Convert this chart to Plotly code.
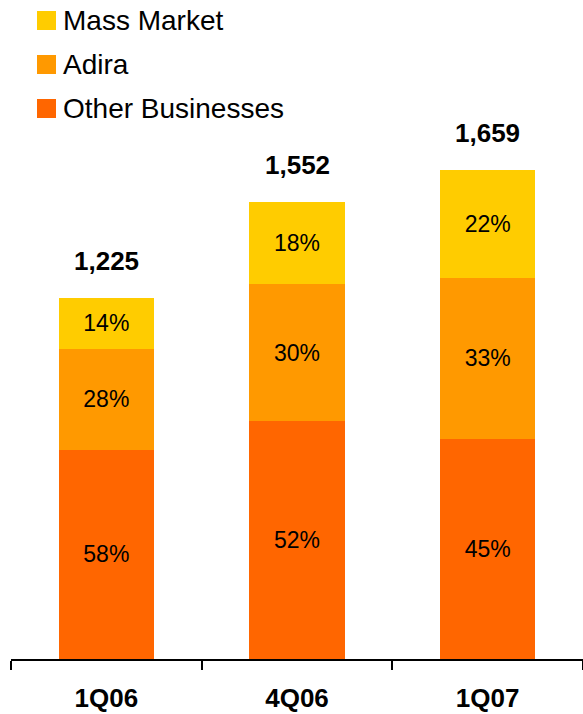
import plotly.graph_objects as go

quarters = ["1Q06", "4Q06", "1Q07"]
totals = [1225, 1552, 1659]
other_pct = [58, 52, 45]
adira_pct = [28, 30, 33]
mass_pct = [14, 18, 22]

series = [
    ("Other Businesses", other_pct, "#FF6600"),
    ("Adira", adira_pct, "#FF9900"),
    ("Mass Market", mass_pct, "#FFCC00"),
]

FONT = "Liberation Sans, Arial, sans-serif"
W, H = 583, 714
L, R, T, B = 11, 0, 60, 55
plot_w = W - L - R
plot_h = H - T - B
px_per_unit = 0.2947
ymax = plot_h / px_per_unit

fig = go.Figure()
for name, pct, color in series:
    vals = [t * p / 100 for t, p in zip(totals, pct)]
    fig.add_trace(go.Bar(
        x=quarters, y=vals, name=name, marker=dict(color=color, line=dict(width=0)),
        text=[f"{p}%" for p in pct], textposition="inside", insidetextanchor="middle",
        textangle=0, textfont=dict(family=FONT, size=23, color="black"),
        width=0.5, showlegend=False,
    ))

for q, t in zip(quarters, totals):
    fig.add_annotation(x=q, y=t, text=f"<b>{t:,}</b>", showarrow=False,
                       yanchor="middle", yshift=37,
                       font=dict(family=FONT, size=26, color="black"))

def px_x(p):
    return (p - L) / plot_w

def px_y(p):
    return (H - B - p) / plot_h

legend_items = [("Mass Market", "#FFCC00"), ("Adira", "#FF9900"), ("Other Businesses", "#FF6600")]
for i, (name, color) in enumerate(legend_items):
    cy = 20.5 + i * 44
    fig.add_shape(type="rect", xref="paper", yref="paper",
                  x0=px_x(37), x1=px_x(56), y0=px_y(cy - 9.5), y1=px_y(cy + 9.5),
                  fillcolor=color, line=dict(width=0))
    fig.add_annotation(xref="paper", yref="paper", x=px_x(61), y=px_y(cy),
                       xanchor="left", yanchor="middle", text=name, showarrow=False,
                       font=dict(family=FONT, size=28, color="black"))

fig.update_layout(
    width=W, height=H, barmode="stack", bargap=0.5,
    margin=dict(l=L, r=R, t=T, b=B, pad=0),
    paper_bgcolor="white", plot_bgcolor="white",
    showlegend=False,
    uniformtext=dict(minsize=23, mode="show"),
    xaxis=dict(showline=True, linecolor="black", linewidth=2, ticks="outside",
               tickson="boundaries", ticklen=9, tickwidth=2, tickcolor="black",
               tickfont=dict(family=FONT, size=26, color="black"),
               tickvals=quarters, ticktext=[f"<b>{q}</b>" for q in quarters],
               ticklabelstandoff=15, showgrid=False, zeroline=False, fixedrange=True),
    yaxis=dict(visible=False, range=[0, ymax], fixedrange=True),
)

fig.write_html("out.html", config={"displayModeBar": False})
